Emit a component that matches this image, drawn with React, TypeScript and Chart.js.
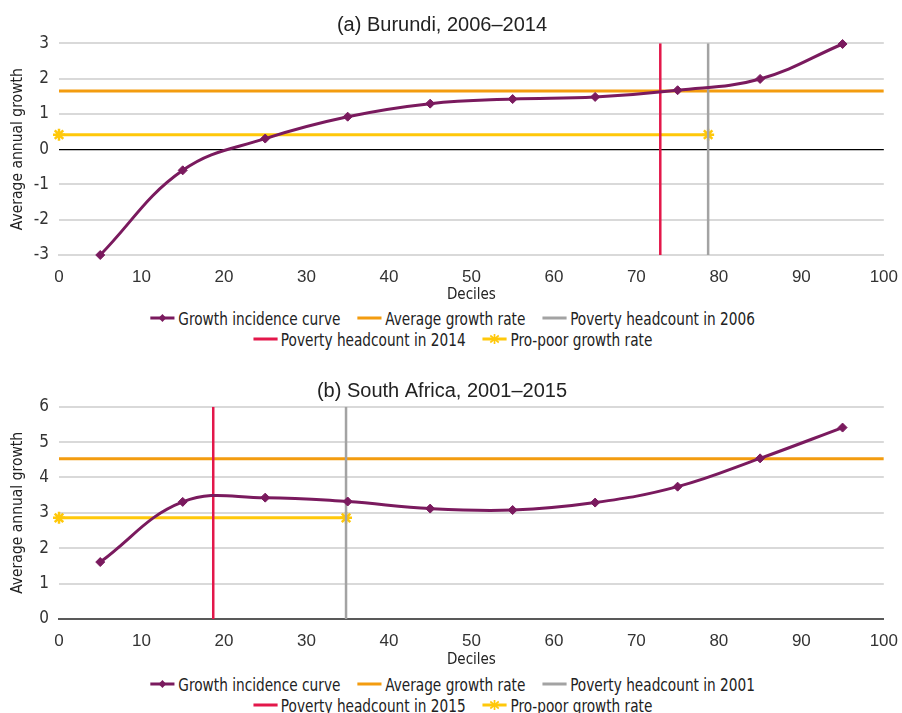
import React, { useEffect, useRef } from "react";
import { Chart, registerables } from "chart.js";

Chart.register(...registerables);

// ---------- data ----------
const deciles = [5, 15, 25, 35, 45, 55, 65, 75, 85, 95];
const xTicks = [0, 100];

const burundiGrowth = [-3.0, -0.6, 0.3, 0.92, 1.29, 1.42, 1.48, 1.67, 1.99, 2.98];
const burundiAverage = 1.65;
const burundiProPoor = 0.41;
const burundiPovertyEarly = 78.7; // 2006
const burundiPovertyLate = 72.9; // 2014
const burundiYRange = [-3, 3];

const saGrowth = [1.61, 3.31, 3.43, 3.32, 3.12, 3.08, 3.29, 3.74, 4.54, 5.41];
const saAverage = 4.53;
const saProPoor = 2.86;
const saPovertyEarly = 34.8; // 2001
const saPovertyLate = 18.7; // 2015
const saYRange = [0, 6];

// ---------- styles ----------
const PURPLE = "#7a1a5e";
const ORANGE = "#f39c0f";
const GRAY = "#a3a3a3";
const RED = "#e3174a";
const YELLOW = "#ffc80a";
const TEXT = "#222222";
const NARROW = "'DejaVu Sans Condensed', 'Liberation Sans', sans-serif";
const REGULAR = "'Liberation Sans', Arial, sans-serif";

type PanelProps = {
  title: string;
  growth: number[];
  average: number;
  proPoor: number;
  povertyEarly: number;
  povertyLate: number;
  earlyLabel: string;
  lateLabel: string;
  yRange: number[];
  bottomBorder: string;
  blackZero: boolean;
  top: number;
  height: number;
  titlePad: { top: number; bottom: number };
  xAxisHeight: number;
};

function ChartPanel(p: PanelProps) {
  const ref = useRef<HTMLCanvasElement>(null);
  useEffect(() => {
    const [yMin, yMax] = p.yRange;
    const chart = new Chart(ref.current as HTMLCanvasElement, {
      type: "line",
      data: {
        datasets: [
          {
            label: "Growth incidence curve",
            data: deciles.map((d, i) => ({ x: d, y: p.growth[i] })),
            borderColor: PURPLE,
            backgroundColor: PURPLE,
            borderWidth: 3,
            pointStyle: "rectRot",
            pointRadius: 4.5,
            pointBorderWidth: 1,
            tension: 0.4,
            clip: false,
            order: 0,
          } as any,
          {
            label: p.lateLabel,
            data: [
              { x: p.povertyLate, y: yMin },
              { x: p.povertyLate, y: yMax },
            ],
            borderColor: RED,
            backgroundColor: RED,
            borderWidth: 2.5,
            pointRadius: 0,
            order: 1,
          },
          {
            label: p.earlyLabel,
            data: [
              { x: p.povertyEarly, y: yMin },
              { x: p.povertyEarly, y: yMax },
            ],
            borderColor: GRAY,
            backgroundColor: GRAY,
            borderWidth: 2.5,
            pointRadius: 0,
            order: 2,
          },
          {
            label: "Pro-poor growth rate",
            data: [
              { x: xTicks[0], y: p.proPoor },
              { x: p.povertyEarly, y: p.proPoor },
            ],
            borderColor: YELLOW,
            backgroundColor: YELLOW,
            borderWidth: 3,
            pointStyle: "star",
            pointRadius: 6,
            pointBorderWidth: 2.5,
            clip: false,
            order: 3,
          } as any,
          {
            label: "Average growth rate",
            data: [
              { x: xTicks[0], y: p.average },
              { x: xTicks[1], y: p.average },
            ],
            borderColor: ORANGE,
            backgroundColor: ORANGE,
            borderWidth: 3,
            pointRadius: 0,
            order: 4,
          },
        ],
      },
      options: {
        responsive: true,
        maintainAspectRatio: false,
        animation: false,
        layout: { padding: { left: 0, right: 18, top: 0, bottom: 0 } },
        plugins: {
          legend: { display: false },
          tooltip: { enabled: false },
          title: {
            display: true,
            text: p.title,
            color: TEXT,
            font: { family: REGULAR, size: 20, weight: "normal" },
            padding: p.titlePad,
          },
        },
        scales: {
          x: {
            type: "linear",
            min: xTicks[0],
            max: xTicks[1],
            ticks: {
              stepSize: 10,
              padding: 4,
              color: "#333",
              font: { family: REGULAR, size: 17 },
              maxRotation: 0,
              autoSkip: false,
            },
            grid: { display: false },
            border: { display: true, color: p.bottomBorder, width: 2 },
            title: {
              display: true,
              text: "Deciles",
              color: TEXT,
              font: { family: NARROW, size: 15 },
              padding: { top: 0, bottom: 0 },
            },
            afterFit: (s: any) => {
              s.height = p.xAxisHeight;
            },
          },
          y: {
            type: "linear",
            min: yMin,
            max: yMax,
            ticks: {
              stepSize: 1,
              padding: 10,
              color: "#333",
              font: { family: NARROW, size: 17 },
            },
            grid: {
              drawTicks: false,
              color: (c: any) => (p.blackZero && c.tick && c.tick.value === 0 ? "#000000" : "#d9d9d9"),
              lineWidth: (c: any) => (p.blackZero && c.tick && c.tick.value === 0 ? 1.2 : 2),
            },
            border: { display: false },
            title: {
              display: true,
              text: "Average annual growth",
              color: TEXT,
              font: { family: NARROW, size: 15.5 },
              padding: { top: 8.5, bottom: 0 },
            },
            afterFit: (s: any) => {
              s.width = 59;
            },
          },
        },
      } as any,
    });
    return () => chart.destroy();
  }, []);
  return (
    <div style={{ position: "absolute", left: 0, top: p.top, width: 902, height: p.height }}>
      <canvas ref={ref} />
    </div>
  );
}

type Kind = "curve" | "average" | "early" | "late" | "propoor";

function Swatch({ kind }: { kind: Kind }) {
  const color =
    kind === "curve" ? PURPLE : kind === "average" ? ORANGE : kind === "early" ? GRAY : kind === "late" ? RED : YELLOW;
  return (
    <svg width={29} height={12} style={{ marginRight: 4, flex: "none" }}>
      <line x1={0} y1={6} x2={29} y2={6} stroke={color} strokeWidth={3} />
      {kind === "curve" && <polygon points="14.5,2 19,6 14.5,10 10,6" fill={color} />}
      {kind === "propoor" && (
        <g stroke={color} strokeWidth={2}>
          <line x1={14.5} y1={1} x2={14.5} y2={11} />
          <line x1={9.5} y1={2.5} x2={19.5} y2={9.5} />
          <line x1={19.5} y1={2.5} x2={9.5} y2={9.5} />
        </g>
      )}
    </svg>
  );
}

function Legend({ top, rows }: { top: number; rows: { label: string; kind: Kind }[][] }) {
  return (
    <div
      style={{
        position: "absolute",
        left: 0,
        top,
        width: 902,
        fontFamily: NARROW,
        fontSize: 18,
        color: TEXT,
        lineHeight: "21px",
      }}
    >
      {rows.map((row, ri) => (
        <div
          key={ri}
          style={{
            display: "flex",
            justifyContent: "center",
            height: 21,
            paddingLeft: 4,
            transform: "scaleX(0.845)",
            transformOrigin: "451px 50%",
          }}
        >
          {row.map((it, ii) => (
            <div key={ii} style={{ display: "flex", alignItems: "center", margin: "0 10px", whiteSpace: "nowrap" }}>
              <Swatch kind={it.kind} />
              <span>{it.label}</span>
            </div>
          ))}
        </div>
      ))}
    </div>
  );
}

export default function App() {
  return (
    <div style={{ position: "absolute", left: 0, top: 0, width: 902, height: 713, background: "#fff" }}>
      <ChartPanel
        title="(a) Burundi, 2006–2014"
        growth={burundiGrowth}
        average={burundiAverage}
        proPoor={burundiProPoor}
        povertyEarly={burundiPovertyEarly}
        povertyLate={burundiPovertyLate}
        earlyLabel="Poverty headcount in 2006"
        lateLabel="Poverty headcount in 2014"
        yRange={burundiYRange}
        bottomBorder="#d9d9d9"
        blackZero={true}
        top={0}
        height={304}
        titlePad={{ top: 13.5, bottom: 5.8 }}
        xAxisHeight={49}
      />
      <Legend
        top={307.5}
        rows={[
          [
            { label: "Growth incidence curve", kind: "curve" },
            { label: "Average growth rate", kind: "average" },
            { label: "Poverty headcount in 2006", kind: "early" },
          ],
          [
            { label: "Poverty headcount in 2014", kind: "late" },
            { label: "Pro-poor growth rate", kind: "propoor" },
          ],
        ]}
      />
      <ChartPanel
        title="(b) South Africa, 2001–2015"
        growth={saGrowth}
        average={saAverage}
        proPoor={saProPoor}
        povertyEarly={saPovertyEarly}
        povertyLate={saPovertyLate}
        earlyLabel="Poverty headcount in 2001"
        lateLabel="Poverty headcount in 2015"
        yRange={saYRange}
        bottomBorder="#595959"
        blackZero={false}
        top={360}
        height={309}
        titlePad={{ top: 19, bottom: 3.7 }}
        xAxisHeight={50}
      />
      <Legend
        top={673.5}
        rows={[
          [
            { label: "Growth incidence curve", kind: "curve" },
            { label: "Average growth rate", kind: "average" },
            { label: "Poverty headcount in 2001", kind: "early" },
          ],
          [
            { label: "Poverty headcount in 2015", kind: "late" },
            { label: "Pro-poor growth rate", kind: "propoor" },
          ],
        ]}
      />
    </div>
  );
}
